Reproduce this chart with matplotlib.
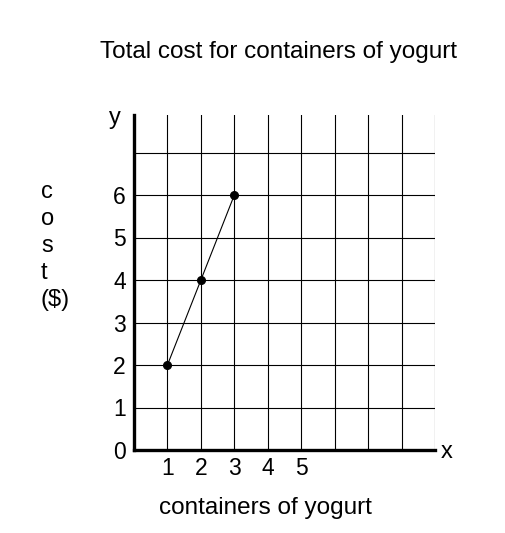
import matplotlib
matplotlib.use('Agg')
import matplotlib.pyplot as plt

# Data
containers = [1, 2, 3]
cost = [2, 4, 6]
x_tick_labels = ['1', '2', '3', '4', '5']
y_tick_labels = ['0', '1', '2', '3', '4', '5', '6']

plt.rcParams['font.family'] = ['Liberation Sans', 'DejaVu Sans']

fig = plt.figure(figsize=(5.05, 5.33), dpi=100)
ax = fig.add_axes([134 / 505, 83 / 533, 301 / 505, 335 / 533])

# Grid: 9 columns, 7 horizontal lines, top of the grid left open
ax.set_xlim(0, 9)
ax.set_ylim(0, 335 / 42.5)
ax.set_xticks(range(1, 10), minor=True)
ax.set_yticks(range(1, 8), minor=True)

ax.set_xticks(range(1, len(x_tick_labels) + 1))
ax.set_xticklabels(x_tick_labels, fontsize=16.5)
ax.set_yticks(range(len(y_tick_labels)))
ax.set_yticklabels(y_tick_labels, fontsize=16.5)
ax.tick_params(which='both', length=0)
ax.tick_params(axis='x', pad=5)
ax.tick_params(axis='y', pad=6)
ax.grid(which='both', color='black', linewidth=0.8)

for side in ['top', 'right']:
    ax.spines[side].set_visible(False)
for side in ['left', 'bottom']:
    ax.spines[side].set_linewidth(2.4)

# the line and points
ax.plot(containers, cost, color='black', linewidth=0.8, marker='o',
        markersize=5.5, zorder=5, clip_on=False)

# axis letters and labels
fig.text(115 / 505, 1 - 118 / 533, 'y', fontsize=17, ha='center', va='center')
fig.text(447 / 505, 1 - 452 / 533, 'x', fontsize=17, ha='center', va='center')
fig.text(279 / 505, 1 - 52 / 533, 'Total cost for containers of yogurt',
         fontsize=17.5, ha='center', va='center')
fig.text(265 / 505, 1 - 508 / 533, 'containers of yogurt',
         fontsize=17.5, ha='center', va='center')
fig.text(41 / 505, 1 - 246 / 533, 'c\no\ns\nt\n($)', fontsize=17,
         ha='left', va='center', linespacing=1.3)

fig.savefig('out.png', dpi=100)
